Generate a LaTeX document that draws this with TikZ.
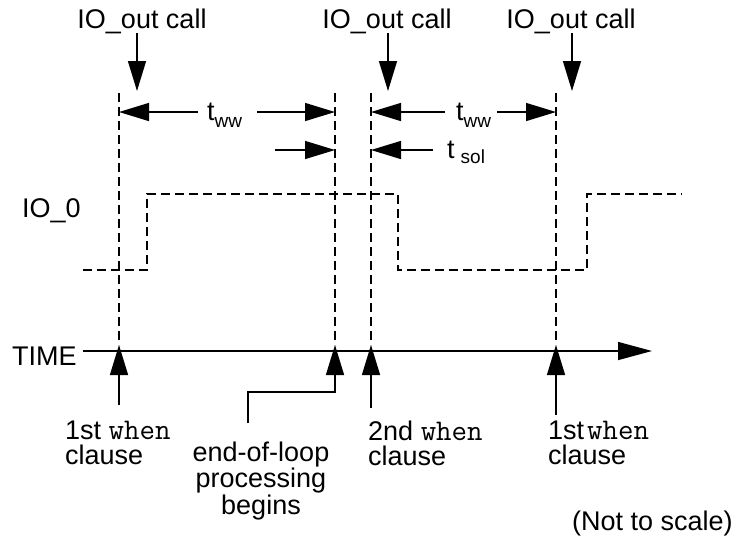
\documentclass[tikz,border=0pt]{standalone}
\usepackage{fontspec}
\setmainfont{Liberation Sans}
\usetikzlibrary{arrows.meta}
\newcommand{\whenkw}{{\fontsize{30}{25}\selectfont\ttfamily when}}
\begin{document}
\begin{tikzpicture}[x=1pt,y=-1pt,
  lbl/.style={font=\fontsize{27}{25}\selectfont, inner sep=0pt},
  dashline/.style={line width=2.2pt, dash pattern=on 9pt off 5pt},
  arr/.style={line width=1.4pt, -{Triangle[length=30pt,width=18pt]}},
  plain/.style={line width=1.4pt}]
\useasboundingbox (0,0) rectangle (737,550);

% top labels
\node[lbl, anchor=base] (call1) at (142,28) {IO\_out call};
\node[lbl, anchor=base] (call2) at (387,28) {IO\_out call};
\node[lbl, anchor=base] (call3) at (571,28) {IO\_out call};

% coordinates
\coordinate (a1) at (137,33);  \coordinate (a1t) at (137,91);
\coordinate (a2) at (388,33);  \coordinate (a2t) at (388,91);
\coordinate (a3) at (572,33);  \coordinate (a3t) at (572,91);

\coordinate (v1t) at (119,93); \coordinate (v1b) at (119,345);
\coordinate (v2t) at (335,93); \coordinate (v2b) at (335,345);
\coordinate (v3t) at (371,93); \coordinate (v3b) at (371,345);
\coordinate (v4t) at (556,93); \coordinate (v4b) at (556,345);

% call arrows
\draw[arr] (a1) -- (a1t);
\draw[arr] (a2) -- (a2t);
\draw[arr] (a3) -- (a3t);

% dashed verticals
\draw[dashline] (v1t) -- (v1b);
\draw[dashline] (v2t) -- (v2b);
\draw[dashline] (v3t) -- (v3b);
\draw[dashline] (v4t) -- (v4b);

% t_ww 1
\node[lbl, anchor=base west] (tww1) at (207,120) {t\raisebox{-7pt}{\fontsize{19}{19}\selectfont ww}};
\coordinate (w1l) at (198,112); \coordinate (w1le) at (119,112);
\coordinate (w1r) at (257,112); \coordinate (w1re) at (335,112);
\draw[arr] (w1l) -- (w1le);
\draw[arr] (w1r) -- (w1re);

% t_ww 2
\node[lbl, anchor=base west] (tww2) at (456,120) {t\raisebox{-7pt}{\fontsize{19}{19}\selectfont ww}};
\coordinate (w2l) at (445,112); \coordinate (w2le) at (371,112);
\coordinate (w2r) at (497,112); \coordinate (w2re) at (556,112);
\draw[arr] (w2l) -- (w2le);
\draw[arr] (w2r) -- (w2re);

% t_sol
\coordinate (s1) at (275,150); \coordinate (s1e) at (335,150);
\draw[arr] (s1) -- (s1e);
\node[lbl, anchor=base west] (tsol) at (447,158) {t\hspace{6pt}\raisebox{-5pt}{\fontsize{19}{19}\selectfont sol}};
\coordinate (s2) at (433,150); \coordinate (s2e) at (371,150);
\draw[arr] (s2) -- (s2e);

% IO_0 signal
\node[lbl, anchor=base west] (io0) at (22,217) {IO\_0};
\draw[dashline] (83,270) -- (147,270) -- (147,194) -- (398,194) -- (398,270)
  -- (587,270) -- (587,194) -- (682,194);

% time axis
\node[lbl, anchor=base west] (time) at (12,365) {TIME};
\coordinate (ax0) at (83,351); \coordinate (ax1) at (652,351);
\draw[line width=1.4pt, -{Triangle[length=34pt,width=18pt]}] (ax0) -- (ax1);

% up arrows
\coordinate (u1) at (119,405);
\coordinate (u3) at (371,408);
\coordinate (u4) at (556,415);
\draw[arr] (u1) -- (v1b);
\draw[arr] (u3) -- (v3b);
\draw[arr] (u4) -- (v4b);
\coordinate (e0) at (248,423); \coordinate (e1) at (248,392); \coordinate (e2) at (335,392);
\draw[arr] (e0) -- (e1) -- (e2) -- (v2b);

% bottom labels
\node[lbl, anchor=north west, align=left] (w1) at (65,420.5) {1st \whenkw\\clause};
\node[lbl, anchor=north, align=center] (eol) at (261,442) {end-of-loop\\processing\\begins};
\node[lbl, anchor=north west, align=left] (w2) at (368,420.5) {2nd \whenkw\\clause};
\node[lbl, anchor=north west, align=left] (w3) at (548,420.5) {1st\hspace{3pt}\whenkw\\clause};

\node[lbl, anchor=base west] (nts) at (572,530) {(Not to scale)};
\end{tikzpicture}
\end{document}
